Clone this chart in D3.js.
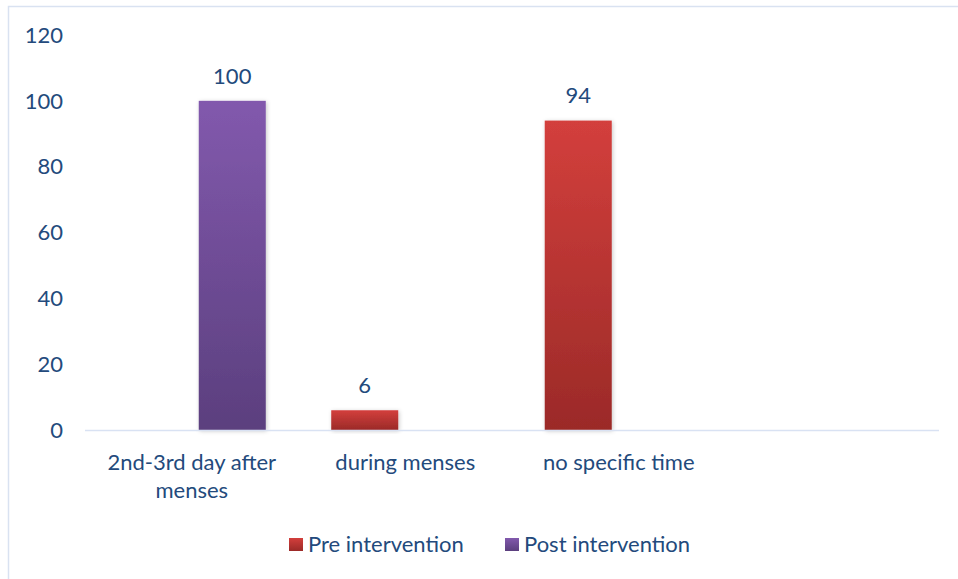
<!DOCTYPE html>
<html><head><meta charset="utf-8">
<script src="https://cdn.jsdelivr.net/npm/d3@7"></script>
<style>body{margin:0;background:#fff}svg{display:block}</style>
</head><body><svg id="c" width="958" height="579"></svg>
<script>
const categories = [["2nd-3rd day after","menses"],["during menses"],["no specific time"],[""]];
const series = ["Pre intervention","Post intervention"];
const preValues = [null, 6, 94, null];
const postValues = [100, null, null, null];
const yTicks = [0,20,40,60,80,100,120];

const svg = d3.select("#c");
const font = "Lato, 'Noto Sans', sans-serif";
const fs = 22;
const textColor = "#234a7c";
const defs = svg.append("defs");
function grad(id, top, bot){
  const g = defs.append("linearGradient").attr("id",id).attr("x1",0).attr("y1",0).attr("x2",0).attr("y2",1);
  g.append("stop").attr("offset","0%").attr("stop-color",top);
  g.append("stop").attr("offset","100%").attr("stop-color",bot);
}
grad("gPre","#d33f3c","#9b2a28");
grad("gPost","#8259ad","#5b3f7e");
const f = defs.append("filter").attr("id","sh").attr("x","-20%").attr("y","-20%").attr("width","140%").attr("height","140%");
f.append("feDropShadow").attr("dx",1).attr("dy",1).attr("stdDeviation",2).attr("flood-color","#000").attr("flood-opacity",0.22);

// frame
svg.append("rect").attr("x",8.5).attr("y",6.5).attr("width",1200).attr("height",1200)
  .attr("fill","none").attr("stroke","#d9e2f1").attr("stroke-width",1.5);

const keys = categories.map((c,i)=>"c"+i);
const x0 = d3.scaleBand().domain(keys).range([85,939]);
const x1 = d3.scaleBand().domain(series).range([0,x0.bandwidth()]).paddingInner(0.173).paddingOuter(0.404);
const y = d3.scaleLinear().domain([0,120]).range([430,35]);

// y labels
svg.append("g").selectAll("text").data(yTicks).join("text")
  .attr("x",63).attr("y",d=>y(d)).attr("dy","0.35em").attr("text-anchor","end")
  .attr("font-family",font).attr("font-size",fs).attr("fill",textColor).text(d=>d);

// bars
const data = [];
keys.forEach((k,i)=>{
  if(preValues[i]!=null) data.push({k, s:series[0], v:preValues[i], fill:"url(#gPre)"});
  if(postValues[i]!=null) data.push({k, s:series[1], v:postValues[i], fill:"url(#gPost)"});
});
svg.append("g").selectAll("rect").data(data).join("rect")
  .attr("x",d=>x0(d.k)+x1(d.s)).attr("width",x1.bandwidth())
  .attr("y",d=>y(d.v)).attr("height",d=>y(0)-y(d.v))
  .attr("fill",d=>d.fill).attr("filter","url(#sh)");

// axis line
svg.append("line").attr("x1",85).attr("x2",939).attr("y1",y(0)+0.5).attr("y2",y(0)+0.5)
  .attr("stroke","#d9e2f3").attr("stroke-width",1.5);

// value labels
svg.append("g").selectAll("text").data(data).join("text")
  .attr("x",d=>x0(d.k)+x1(d.s)+x1.bandwidth()/2).attr("y",d=>y(d.v)-25).attr("dy","0.35em")
  .attr("text-anchor","middle").attr("font-family",font).attr("font-size",fs).attr("fill",textColor).text(d=>d.v);

// category labels
const cg = svg.append("g").selectAll("text").data(categories).join("text")
  .attr("x",(d,i)=>x0(keys[i])+x0.bandwidth()/2).attr("y",462)
  .attr("text-anchor","middle").attr("font-family",font).attr("font-size",fs).attr("fill",textColor);
cg.selectAll("tspan").data(d=>d).join("tspan")
  .attr("x",function(){return this.parentNode.getAttribute("x");})
  .attr("dy",(d,j)=>j===0?"0.35em":"1.27em").text(d=>d);

// legend
const legX = [289, 505];
const lg = svg.append("g").selectAll("g").data(series).join("g")
  .attr("transform",(d,i)=>`translate(${legX[i]},538)`);
lg.append("rect").attr("width",14).attr("height",13).attr("fill",(d,i)=>i===0?"url(#gPre)":"url(#gPost)");
lg.append("text").attr("x",19).attr("y",6.5).attr("dy","0.35em").attr("font-family",font)
  .attr("font-size",fs).attr("fill",textColor).text(d=>d);
</script></body></html>
